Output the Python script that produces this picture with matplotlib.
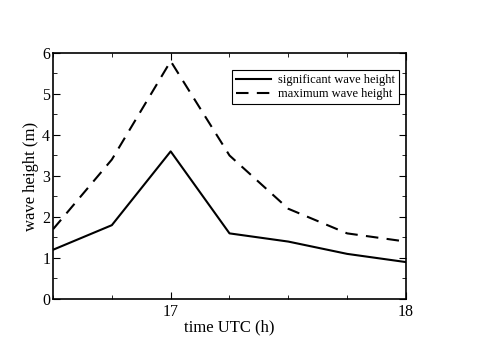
import matplotlib
matplotlib.use("Agg")
import matplotlib.pyplot as plt
from matplotlib.ticker import MultipleLocator

time_h = [16.5, 16.75, 17.0, 17.25, 17.5, 17.75, 18.0]
hs = [1.2, 1.8, 3.6, 1.6, 1.4, 1.1, 0.9]
hmax = [1.7, 3.4, 5.8, 3.5, 2.2, 1.6, 1.4]

plt.rcParams['font.family'] = ['Liberation Serif', 'DejaVu Serif']

fig = plt.figure(figsize=(5, 3.53), dpi=100)
ax = fig.add_axes([0.106, 0.153, 0.706, 0.697])
ax.plot(time_h, hs, color='black', lw=1.5, label='significant wave height')
ax.plot(time_h, hmax, color='black', lw=1.5, dashes=(6, 4), label='maximum wave height')
ax.set_xlim(16.5, 18)
ax.set_ylim(0, 6)
ax.set_xticks([17, 18])
ax.xaxis.set_minor_locator(MultipleLocator(0.25))
ax.yaxis.set_major_locator(MultipleLocator(1))
ax.yaxis.set_minor_locator(MultipleLocator(0.5))
ax.tick_params(which='both', direction='in', top=True, right=True, labelsize=11.5)
ax.tick_params(which='major', length=5)
ax.tick_params(which='minor', length=3)
ax.tick_params(axis='y', pad=2)
for s in ax.spines.values():
    s.set_linewidth(1.2)
ax.set_xlabel('time UTC (h)', fontsize=12, labelpad=0)
ax.set_ylabel('wave height (m)', fontsize=12, labelpad=2)
leg = ax.legend(loc='upper right', bbox_to_anchor=(0.98, 0.93), fontsize=9,
                fancybox=False, edgecolor='black', framealpha=1,
                handlelength=2.8, handletextpad=0.6, borderpad=0.3,
                labelspacing=0.2, borderaxespad=0)
leg.get_frame().set_linewidth(0.8)
fig.savefig('out.png', dpi=100)
